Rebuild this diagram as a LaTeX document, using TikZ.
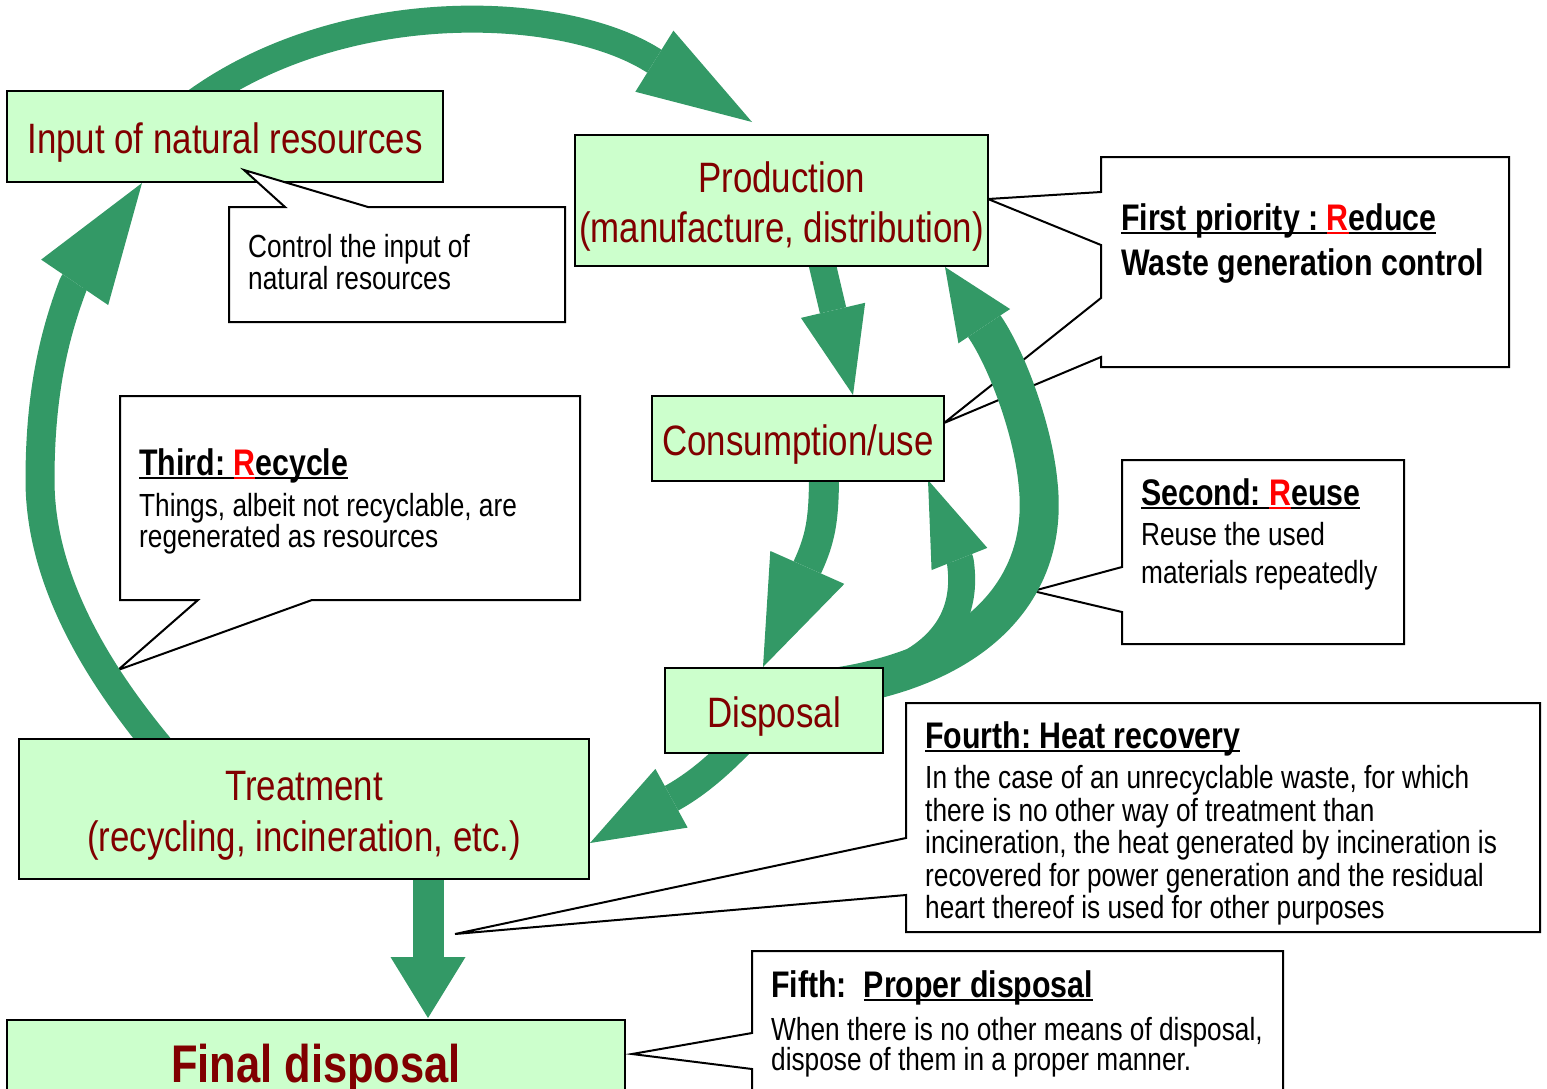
\documentclass[tikz,border=0pt]{standalone}
\usepackage{fontspec}
\setmainfont{Liberation Sans}[FakeStretch=0.82]
\usetikzlibrary{arrows.meta}
\definecolor{boxgreen}{HTML}{CCFFCC}
\definecolor{boxred}{HTML}{800000}
\definecolor{flowgreen}{HTML}{339966}
\definecolor{rred}{HTML}{FF0000}
\frenchspacing
\newcommand{\ulx}[1]{\setbox0=\hbox{#1}\rlap{\rule[-4pt]{\wd0}{2.5pt}}\box0}
\tikzset{
  gbox/.style={draw=black, line width=2pt, fill=boxgreen, inner sep=0pt},
  callout/.style={draw=black, line width=2pt, fill=white, line join=miter},
  flow/.style={draw=flowgreen, line join=round},
  boxlbl/.style={font=\fontsize{42.5pt}{50pt}\selectfont, text=boxred, inner sep=0pt, anchor=base},
  finallbl/.style={font=\bfseries\fontsize{53pt}{60pt}\selectfont, text=boxred, inner sep=0pt, anchor=base},
  bodytxt/.style={font=\fontsize{32pt}{32pt}\selectfont, inner sep=0pt, anchor=base west},
  headtxt/.style={font=\bfseries\fontsize{37pt}{37pt}\selectfont, inner sep=0pt, anchor=base west},
}
\begin{document}
\begin{tikzpicture}[x=1pt,y=-1pt]
\useasboundingbox (0,0) rectangle (1547,1088);
\clip (0,0) rectangle (1547,1088);

% ---------- callouts behind the flow arrows ----------
\draw[callout] (1101,157) -- (1509,157) -- (1509,367) -- (1101,367) -- (1101,357)
  -- (944,423) -- (1101,298) -- (1101,245) -- (988,199) -- (1101,192) -- cycle;
\node[headtxt] (reduceH) at (1121,230) {\ulx{First priority :\ }\textcolor{rred}{\ulx{R}}\ulx{educe}};
\node[headtxt] (reduceB) at (1121,275) {Waste generation control};

\draw[callout] (1122,460) -- (1404,460) -- (1404,644) -- (1122,644) -- (1122,612)
  -- (1033,591) -- (1122,567) -- cycle;
\node[headtxt] (reuseH) at (1141,505) {\ulx{Second:\ }\textcolor{rred}{\ulx{R}}\ulx{euse}};
\node[bodytxt] (reuseB1) at (1141,545) {Reuse the used};
\node[bodytxt] (reuseB2) at (1141,583) {materials repeatedly};

\draw[callout] (120,396) -- (580,396) -- (580,600) -- (312,600) -- (118,670)
  -- (198,600) -- (120,600) -- cycle;
\node[headtxt] (recycH) at (139,475) {\ulx{Third:\ }\textcolor{rred}{\ulx{R}}\ulx{ecycle}};
\node[bodytxt] (recycB1) at (139,516) {Things, albeit not recyclable, are};
\node[bodytxt] (recycB2) at (139,547) {regenerated as resources};

\draw[callout] (906,703) -- (1540,703) -- (1540,932) -- (906,932) -- (906,895)
  -- (455,934) -- (906,838) -- cycle;
\node[headtxt] (heatH) at (925,748) {\ulx{Fourth: Heat recovery}};
\node[bodytxt] (heatB1) at (925,788) {In the case of an unrecyclable waste, for which};
\node[bodytxt] (heatB2) at (925,821) {there is no other way of treatment than};
\node[bodytxt] (heatB3) at (925,853) {incineration, the heat generated by incineration is};
\node[bodytxt] (heatB4) at (925,886) {recovered for power generation and the residual};
\node[bodytxt] (heatB5) at (925,918) {heart thereof is used for other purposes};

\draw[callout] (752,951) -- (1283,951) -- (1283,1110) -- (752,1110) -- (752,1069)
  -- (632,1054) -- (752,1033) -- cycle;
\node[headtxt] (fifthH) at (771,997) {Fifth:\ \ \ulx{Proper disposal}};
\node[bodytxt] (fifthB1) at (771,1040) {When there is no other means of disposal,};
\node[bodytxt] (fifthB2) at (771,1070) {dispose of them in a proper manner.};

% ---------- flow arrows ----------
\coordinate (a1s) at (182,112);   \coordinate (a1t) at (752,122);
\coordinate (a2s) at (820,255);   \coordinate (a2t) at (853,395);
\coordinate (a3s) at (824,470);   \coordinate (a3t) at (763,667);
\coordinate (a4s) at (915,660);   \coordinate (a4t) at (928,480);
\coordinate (a5s) at (830,688);   \coordinate (a5t) at (945,267);
\coordinate (a6s) at (745,738);   \coordinate (a6t) at (590,843);
\coordinate (a7s) at (170,760);   \coordinate (a7t) at (142,183);
\coordinate (a8s) at (428,870);   \coordinate (a8t) at (428,1018);

\draw[flow, line width=27pt, -{Triangle[width=72pt,length=115pt,line width=0pt]}]
  (a1s) .. controls (330,-5) and (559,1.7) .. (652.3,59.9) -- (a1t);
\draw[flow, line width=27pt, -{Triangle[width=66pt,length=87pt,line width=0pt]}]
  (a2s) -- (a2t);
\draw[flow, line width=30pt, -{Triangle[width=81pt,length=109pt,line width=0pt]}]
  (a3s) .. controls (824,515) and (822,535) .. (808.3,565.2) -- (a3t);
\draw[flow, line width=39pt, -{Triangle[width=62pt,length=71pt,line width=0pt]}]
  (a5s) .. controls (975,668) and (1050,590) .. (1038,483)
  .. controls (1033,430) and (1007.6,361.4) .. (985.6,328.2) -- (a5t);
\draw[flow, line width=27pt, -{Triangle[width=60pt,length=85pt,line width=0pt]}]
  (a4s) .. controls (955,635) and (966,600) .. (960.2,560.9) -- (a4t);
\draw[flow, line width=28pt, -{Triangle[width=67pt,length=93pt,line width=0pt]}]
  (a6s) .. controls (722,762) and (700,782) .. (673.8,797) -- (a6t);
\draw[flow, line width=29pt, -{Triangle[width=81pt,length=120pt,line width=0pt]}]
  (a7s) .. controls (110,690) and (40,590) .. (40,480)
  .. controls (40,400) and (52,340) .. (73.4,284.2) -- (a7t);
\draw[flow, line width=31pt, -{Triangle[width=75pt,length=61pt,line width=0pt]}]
  (a8s) -- (a8t);

% ---------- process boxes ----------
\node[gbox, minimum width=436pt, minimum height=91pt] (input) at (225,136.5) {};
\node[boxlbl] (inputL) at (225,153) {Input of natural resources};

\node[gbox, minimum width=413pt, minimum height=131pt] (prod) at (781.5,200.5) {};
\node[boxlbl] (prodL1) at (781.5,192) {Production};
\node[boxlbl] (prodL2) at (781.5,242) {(manufacture, distribution)};

\node[gbox, minimum width=292pt, minimum height=85pt] (cons) at (798,438.5) {};
\node[boxlbl] (consL) at (798,455) {Consumption/use};

\node[gbox, minimum width=218pt, minimum height=85pt] (disp) at (774,710.5) {};
\node[boxlbl] (dispL) at (774,727) {Disposal};

\node[gbox, minimum width=570pt, minimum height=140pt] (treat) at (304,809) {};
\node[boxlbl] (treatL1) at (304,800) {Treatment};
\node[boxlbl] (treatL2) at (304,851) {(recycling, incineration, etc.)};

\node[gbox, minimum width=618pt, minimum height=160pt] (final) at (316,1100) {};
\node[finallbl] (finalL) at (316,1082) {Final disposal};

% ---------- callout over the input box ----------
\draw[callout] (229,207) -- (285,207) -- (244,170) -- (368,207) -- (565,207)
  -- (565,322) -- (229,322) -- cycle;
\node[bodytxt] (ctrl1) at (248,257) {Control the input of};
\node[bodytxt] (ctrl2) at (248,289) {natural resources};
\end{tikzpicture}
\end{document}
